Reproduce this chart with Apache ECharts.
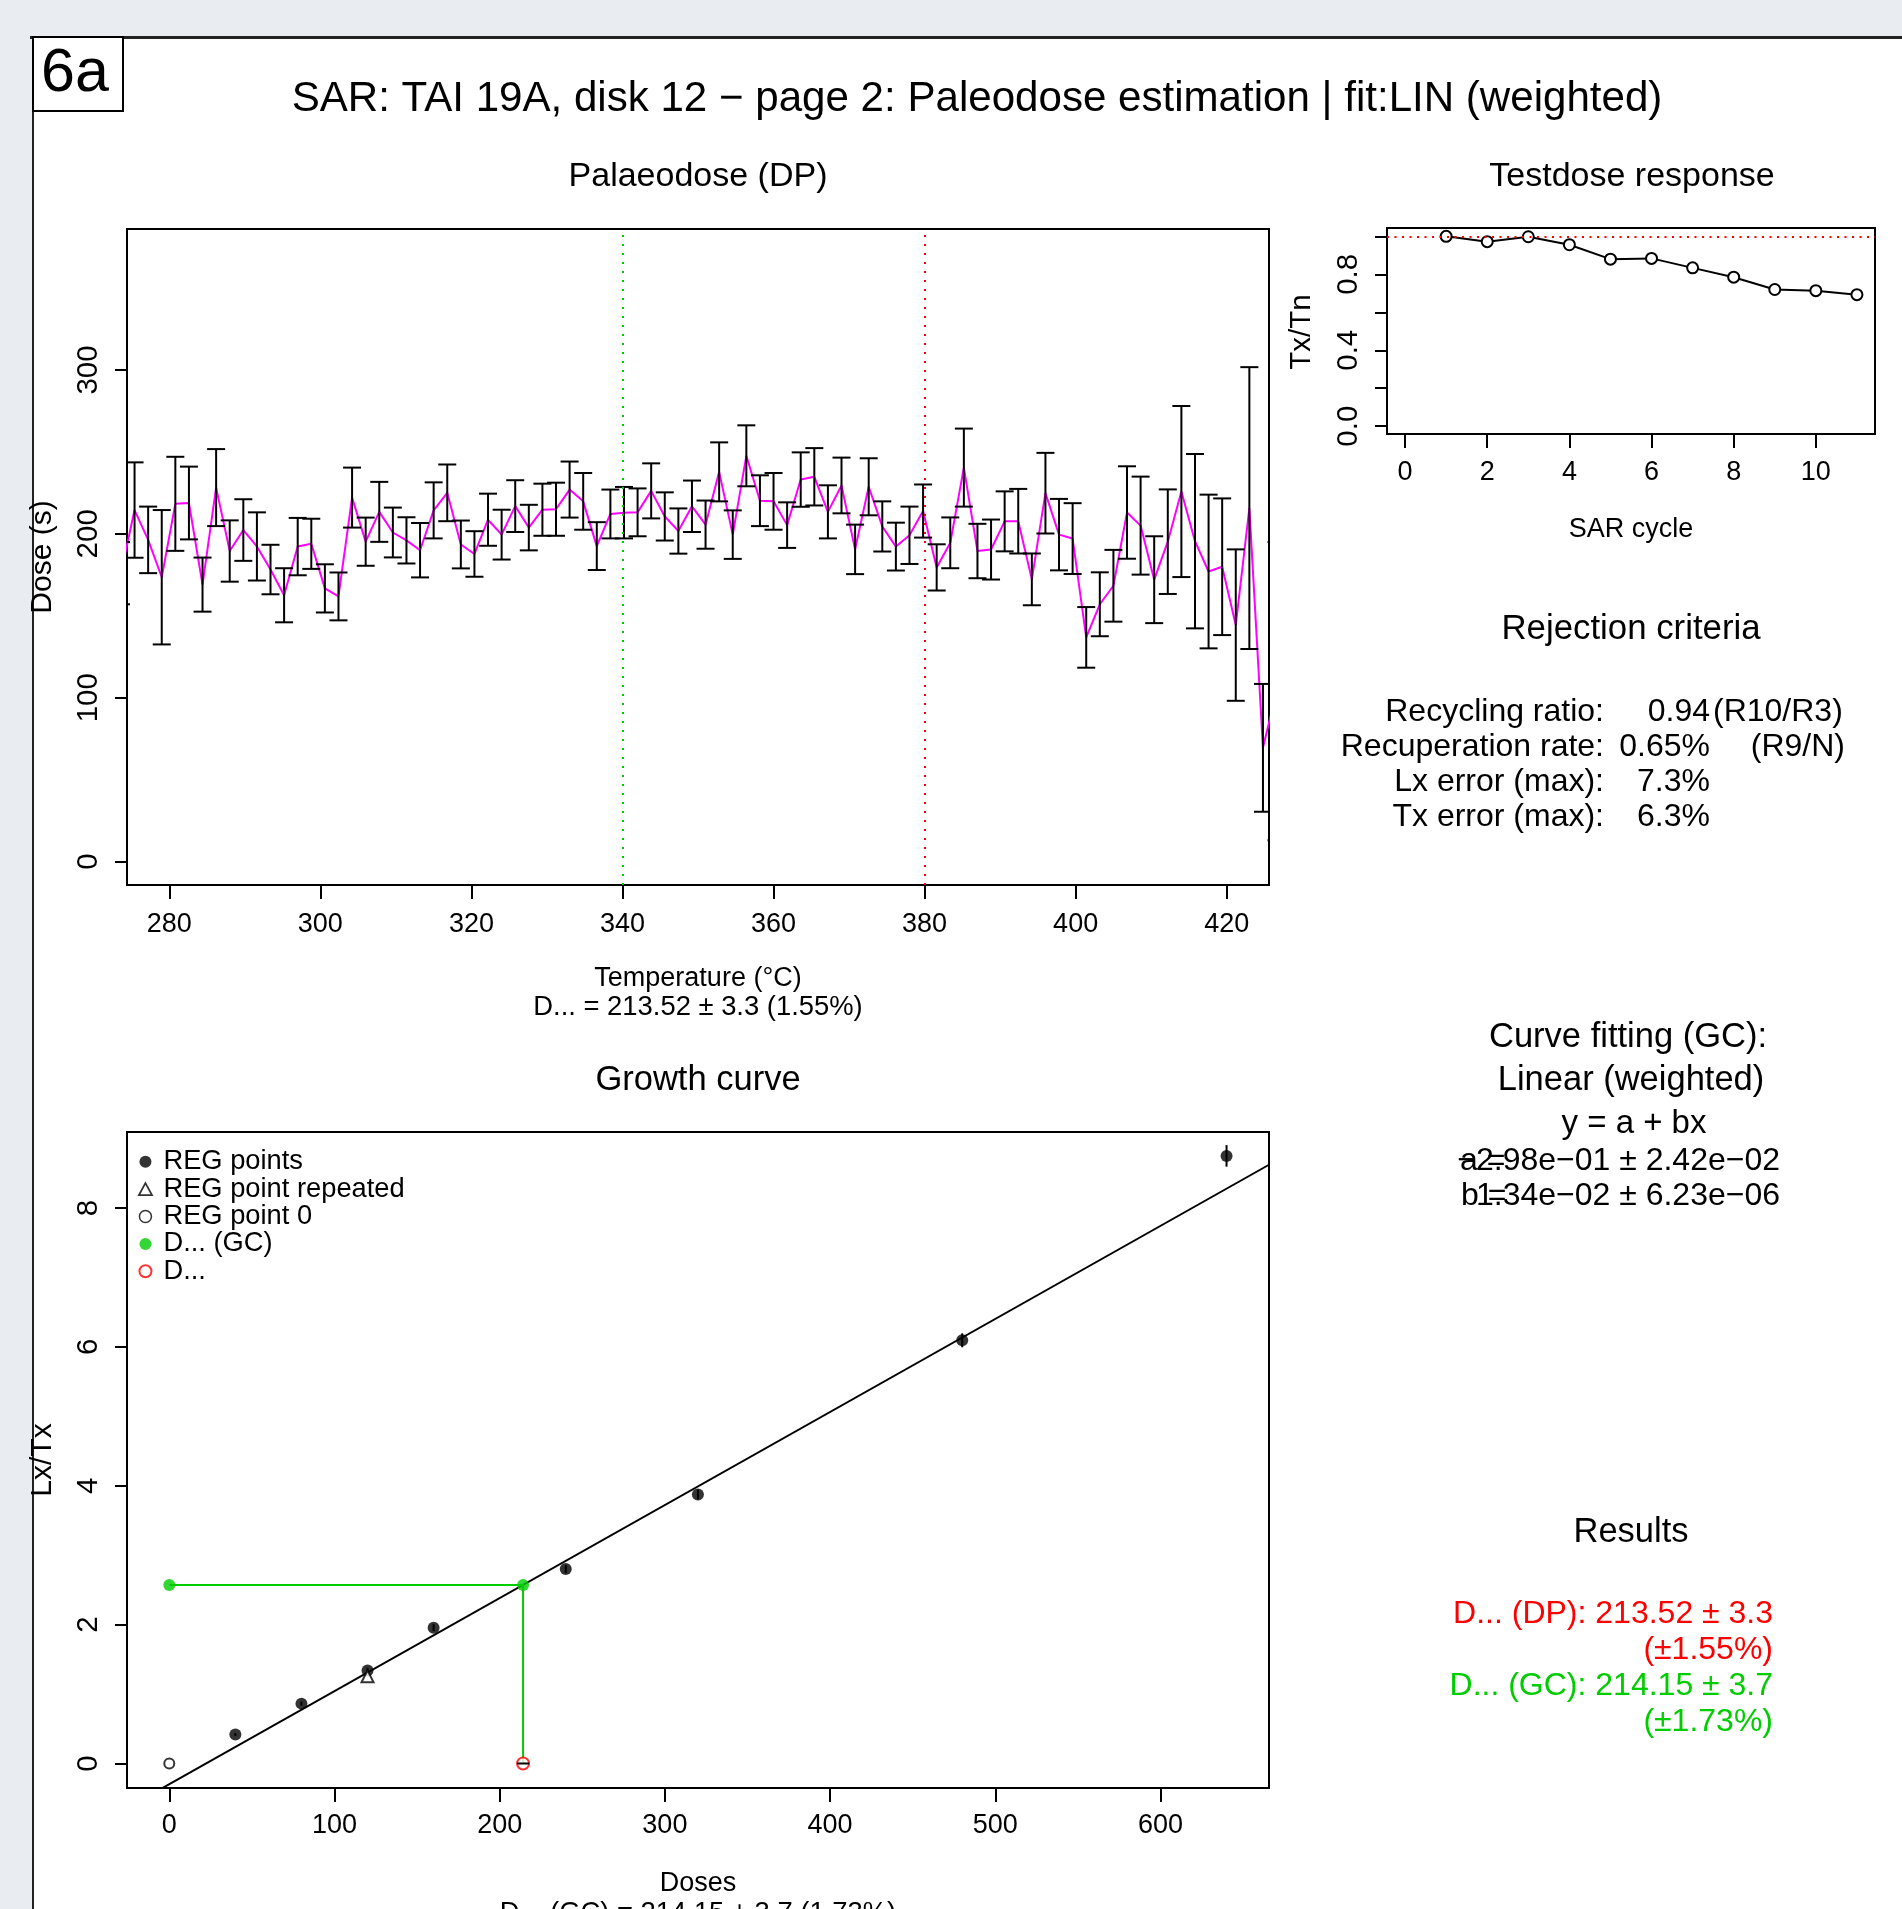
<!DOCTYPE html>
<html>
<head>
<meta charset="utf-8">
<script src="https://cdn.jsdelivr.net/npm/echarts@6/dist/echarts.min.js"></script>
<style>
html,body{margin:0;padding:0;background:#e9edf2;}
#c{width:1902px;height:1909px;}
</style>
</head>
<body>
<div id="c"></div>
<script>
// ---------------- DATA ----------------
// Palaeodose (DP) plateau: temperature (°C), dose (s), error (s)
const dpTemps = [273.6, 275.4, 277.2, 279.0, 280.8, 282.6, 284.4, 286.2, 288.0, 289.8,
  291.6, 293.4, 295.2, 297.0, 298.8, 300.6, 302.4, 304.2, 306.0, 307.8,
  309.6, 311.4, 313.2, 315.0, 316.8, 318.6, 320.4, 322.2, 324.0, 325.8,
  327.6, 329.4, 331.2, 333.0, 334.8, 336.6, 338.4, 340.2, 342.0, 343.8,
  345.6, 347.4, 349.2, 351.0, 352.8, 354.6, 356.4, 358.2, 360.0, 361.8,
  363.6, 365.4, 367.2, 369.0, 370.8, 372.6, 374.4, 376.2, 378.0, 379.8,
  381.6, 383.4, 385.2, 387.0, 388.8, 390.6, 392.4, 394.2, 396.0, 397.8,
  399.6, 401.4, 403.2, 405.0, 406.8, 408.6, 410.4, 412.2, 414.0, 415.8,
  417.6, 419.4, 421.2, 423.0, 424.8, 426.6];
const dpDose = [176, 214.5, 196.3, 173.5, 218.3, 218.8, 169, 228.2, 189.5, 202.3,
  192.3, 178.2, 162.5, 192.2, 193.9, 166.7, 161.8, 222.1, 195.2, 213.4,
  200.8, 196, 190, 214.3, 225, 193.5, 187.7, 208.6, 199.5, 216.9,
  203.8, 214.7, 215, 227, 219.8, 192.5, 212.1, 212.9, 213.1, 226.2,
  210.6, 201.7, 216.8, 205.6, 237.8, 199.5, 247.6, 220.2, 219.8, 205.3,
  233.1, 234.8, 213.4, 229.5, 190.5, 228.7, 204.5, 192.2, 199.1, 213.9,
  179.5, 194.5, 240.4, 189.5, 190.4, 207.6, 207.7, 172.2, 224.8, 199.5,
  197.1, 136.8, 157, 168.3, 213, 205, 172, 195.2, 225.8, 195.5,
  177, 179.9, 144.3, 215.7, 69.4, 104];
const dpErr = [19, 29.1, 20.3, 41, 28.7, 22.2, 16.5, 23.5, 18.7, 18.8,
  20.8, 15.1, 16.5, 17.5, 15.3, 14.7, 14.6, 18.3, 14.7, 18.3,
  15.2, 14.1, 16.6, 17.1, 17.3, 14.6, 13.9, 15.9, 15.2, 15.8,
  13.9, 15.9, 16.2, 17.1, 17.3, 14.6, 14.9, 15.7, 14.6, 16.8,
  14.7, 13.8, 15.7, 14.7, 18, 14.8, 18.6, 15.5, 17.3, 13.9,
  16.6, 17.5, 16.2, 17, 15.1, 17.4, 15.3, 14.6, 17.5, 16.2,
  14.1, 15.5, 23.8, 16.6, 18.3, 18.3, 19.7, 15.8, 24.6, 21.8,
  21.6, 18.5, 19.5, 21.9, 28.2, 29.9, 26.5, 31.9, 52.2, 53.2,
  46.9, 41.7, 46.2, 86, 39, 91];
const dpLimits = [340, 380];
const dpXTicks = [280, 300, 320, 340, 360, 380, 400, 420];
const dpYTicks = [0, 100, 200, 300];

// Testdose response
const tdCycle = [1, 2, 3, 4, 5, 6, 7, 8, 9, 10, 11];
const tdRatio = [1.0, 0.972, 0.998, 0.956, 0.880, 0.884, 0.834, 0.785, 0.720, 0.714, 0.693];
const tdRef = 1.0;
const tdXTicks = [0, 2, 4, 6, 8, 10];
const tdYTicks = [0, 0.2, 0.4, 0.6, 0.8, 1.0];
const tdYLabels = [0, 0.4, 0.8];

// Growth curve
const regDoses = [40, 80, 120, 160, 240, 320, 480, 640];
const regLxTx = [0.418, 0.862, 1.338, 1.956, 2.80, 3.874, 6.094, 8.75];
const regErr = [0.02, 0.03, 0.04, 0.05, 0.06, 0.07, 0.10, 0.155];
const repDose = [120];
const repLxTx = [1.255];
const zeroDose = [0];
const zeroLxTx = [0.0];
const naturalLxTx = 2.57;
const deGC = 214.15;
const deGCErr = 3.7;
const fitA = -0.298;
const fitB = 0.0134;
const gcXTicks = [0, 100, 200, 300, 400, 500, 600];
const gcYTicks = [0, 2, 4, 6, 8];

// ---------------- LAYOUT ----------------
const FONT = '"Liberation Sans", Arial, sans-serif';
const dpRange = {xmin: 274.4, xmax: 425.6, ymin: -14.3, ymax: 386};
const tdRange = {xmin: -0.44, xmax: 11.44, ymin: -0.041, ymax: 1.044};
const gcRange = {xmin: -25.6, xmax: 665.7, ymin: -0.353, ymax: 9.094};
const DY = 2; // text baseline correction

function errRender(capHalf, horizontal) {
  return function (params, api) {
    const x = api.value(0), y = api.value(1), e = api.value(2);
    let p1, p2;
    if (horizontal) { p1 = api.coord([x - e, y]); p2 = api.coord([x + e, y]); }
    else { p1 = api.coord([x, y + e]); p2 = api.coord([x, y - e]); }
    const st = {stroke: '#000', lineWidth: 2};
    const ch = [{type: 'line', shape: {x1: p1[0], y1: p1[1], x2: p2[0], y2: p2[1]}, style: st}];
    if (capHalf > 0) {
      ch.push({type: 'line', shape: {x1: p1[0] - capHalf, y1: p1[1], x2: p1[0] + capHalf, y2: p1[1]}, style: st});
      ch.push({type: 'line', shape: {x1: p2[0] - capHalf, y1: p2[1], x2: p2[0] + capHalf, y2: p2[1]}, style: st});
    }
    return {type: 'group', children: ch};
  };
}

function xAxisDef(gi, r, ticks, margin) {
  return {
    type: 'value', gridIndex: gi, min: r.xmin, max: r.xmax, position: 'bottom',
    axisLine: {show: false, onZero: false}, splitLine: {show: false},
    axisTick: {show: true, inside: false, length: 14, lineStyle: {color: '#000', width: 2}, customValues: ticks},
    axisLabel: {customValues: ticks, margin: margin, color: '#000', fontSize: 27, lineHeight: 27, fontFamily: FONT}
  };
}
function yAxisDef(gi, r, ticks, labels, margin, fmt) {
  return {
    type: 'value', gridIndex: gi, min: r.ymin, max: r.ymax, position: 'left',
    axisLine: {show: false, onZero: false}, splitLine: {show: false},
    axisTick: {show: true, inside: false, length: 12, lineStyle: {color: '#000', width: 2}, customValues: ticks},
    axisLabel: {customValues: labels, rotate: 90, margin: margin, color: '#000', fontSize: 29.5, lineHeight: 29,
      fontFamily: FONT, formatter: fmt || (v => String(v))}
  };
}

function txt(x, y, text, size, opts) {
  opts = opts || {};
  return {
    type: 'text', x: x, y: y + (opts.rot ? 0 : DY), rotation: opts.rot || 0, z: 10,
    style: {text: text, fontSize: size, fontFamily: FONT, fill: opts.color || '#000',
      align: opts.align || 'center', verticalAlign: 'middle'}
  };
}

const gridBase = {show: true, borderColor: '#000', borderWidth: 2, backgroundColor: '#fff', outerBoundsMode: 'none', containLabel: false};

const option = {
  animation: false,
  backgroundColor: '#e9edf2',
  textStyle: {fontFamily: FONT},
  grid: [
    Object.assign({left: 127, top: 229, width: 1142, height: 656}, gridBase),
    Object.assign({left: 1387, top: 228, width: 488, height: 206}, gridBase),
    Object.assign({left: 127, top: 1132, width: 1142, height: 656}, gridBase)
  ],
  xAxis: [
    xAxisDef(0, dpRange, dpXTicks, 26),
    xAxisDef(1, tdRange, tdXTicks, 25),
    xAxisDef(2, gcRange, gcXTicks, 24)
  ],
  yAxis: [
    yAxisDef(0, dpRange, dpYTicks, dpYTicks, 24),
    yAxisDef(1, tdRange, tdYTicks, tdYLabels, 24, v => v.toFixed(1)),
    yAxisDef(2, gcRange, gcYTicks, gcYTicks, 24)
  ],
  legend: {
    left: 138, top: 1148, orient: 'vertical', itemWidth: 26, itemHeight: 12, itemGap: 0, padding: 0,
    selectedMode: false, symbolKeepAspect: true,
    textStyle: {fontSize: 27.3, lineHeight: 27.4, color: '#000', fontFamily: FONT},
    data: [
      {name: 'REG points', icon: 'circle', symbolKeepAspect: true, itemStyle: {color: '#000', borderWidth: 0}},
      {name: 'REG point repeated', icon: 'path://M6,0 L12,11 L0,11 Z', symbolKeepAspect: true, itemStyle: {color: '#fff', borderColor: '#000', borderWidth: 1.8}},
      {name: 'REG point 0', icon: 'circle', symbolKeepAspect: true, itemStyle: {color: '#fff', borderColor: '#000', borderWidth: 1.5}},
      {name: 'D... (GC)', icon: 'circle', symbolKeepAspect: true, itemStyle: {color: '#00cd00', borderWidth: 0}},
      {name: 'D...', icon: 'circle', symbolKeepAspect: true, itemStyle: {color: '#fff', borderColor: '#ff0000', borderWidth: 2}}
    ]
  },
  series: [
    // --- Palaeodose ---
    {
      type: 'line', name: 'DP', xAxisIndex: 0, yAxisIndex: 0, showSymbol: false, clip: true,
      lineStyle: {color: '#ff00ff', width: 2}, itemStyle: {color: '#ff00ff'},
      data: dpTemps.map((t, i) => [t, dpDose[i]]), z: 2,
      markLine: {
        silent: true, symbol: ['none', 'none'], label: {show: false}, animation: false,
        data: [
          {xAxis: dpLimits[0], lineStyle: {color: '#00cd00', type: [2, 7], width: 2}},
          {xAxis: dpLimits[1], lineStyle: {color: '#ff0000', type: [2, 7], width: 2}}
        ]
      }
    },
    {
      type: 'custom', name: 'DPerr', xAxisIndex: 0, yAxisIndex: 0, clip: true, z: 3,
      renderItem: errRender(9, false), encode: {x: 0, y: 1},
      data: dpTemps.map((t, i) => [t, dpDose[i], dpErr[i]])
    },
    // --- Testdose ---
    {
      type: 'line', name: 'TD', xAxisIndex: 1, yAxisIndex: 1, symbol: 'emptyCircle', symbolSize: 11,
      lineStyle: {color: '#000', width: 2}, itemStyle: {color: '#000', borderWidth: 2},
      data: tdCycle.map((c, i) => [c, tdRatio[i]]), z: 3,
      markLine: {
        silent: true, symbol: ['none', 'none'], label: {show: false}, animation: false,
        data: [{yAxis: tdRef, lineStyle: {color: '#ff0000', type: [2, 5.5], width: 2}}]
      }
    },
    // --- Growth curve ---
    {
      type: 'line', name: 'fit', xAxisIndex: 2, yAxisIndex: 2, showSymbol: false, clip: true,
      lineStyle: {color: '#000', width: 2}, z: 2,
      data: [[gcRange.xmin, fitA + fitB * gcRange.xmin], [gcRange.xmax, fitA + fitB * gcRange.xmax]]
    },
    {
      type: 'line', name: 'deLines', xAxisIndex: 2, yAxisIndex: 2, showSymbol: false, clip: true,
      lineStyle: {color: '#00cd00', width: 2}, z: 2,
      data: [[0, naturalLxTx], [deGC, naturalLxTx], [deGC, 0]]
    },
    {
      type: 'custom', name: 'REGerr', xAxisIndex: 2, yAxisIndex: 2, clip: true, z: 3,
      renderItem: errRender(0, false), encode: {x: 0, y: 1},
      data: regDoses.map((d, i) => [d, regLxTx[i], regErr[i]])
    },
    {
      type: 'scatter', name: 'REG points', xAxisIndex: 2, yAxisIndex: 2, symbol: 'circle', symbolSize: 12,
      itemStyle: {color: '#000'}, z: 4,
      data: regDoses.map((d, i) => [d, regLxTx[i]])
    },
    {
      type: 'scatter', name: 'REG point repeated', xAxisIndex: 2, yAxisIndex: 2, symbol: 'emptyTriangle', symbolSize: 12,
      itemStyle: {color: '#000', borderWidth: 2}, z: 4,
      data: repDose.map((d, i) => [d, repLxTx[i]])
    },
    {
      type: 'scatter', name: 'REG point 0', xAxisIndex: 2, yAxisIndex: 2, symbol: 'emptyCircle', symbolSize: 10,
      itemStyle: {color: '#000', borderWidth: 1.8}, z: 4,
      data: zeroDose.map((d, i) => [d, zeroLxTx[i]])
    },
    {
      type: 'custom', name: 'DEerr', xAxisIndex: 2, yAxisIndex: 2, clip: true, z: 5,
      renderItem: errRender(0, true), encode: {x: 0, y: 1},
      data: [[deGC, 0, deGCErr]]
    },
    {
      type: 'scatter', name: 'D... (GC)', xAxisIndex: 2, yAxisIndex: 2, symbol: 'circle', symbolSize: 12,
      itemStyle: {color: '#00cd00'}, z: 4,
      data: [[0, naturalLxTx], [deGC, naturalLxTx]]
    },
    {
      type: 'scatter', name: 'D...', xAxisIndex: 2, yAxisIndex: 2, symbol: 'emptyCircle', symbolSize: 12,
      itemStyle: {color: '#ff0000', borderWidth: 2}, z: 4,
      data: [[deGC, 0]]
    }
  ],
  graphic: [
    // white panel with borders
    {type: 'rect', z: -1, shape: {x: 33, y: 37, width: 1869, height: 1872}, style: {fill: '#fff'}},
    {type: 'line', z: 1, shape: {x1: 30, y1: 37.5, x2: 1902, y2: 37.5}, style: {stroke: '#222', lineWidth: 3}},
    {type: 'line', z: 1, shape: {x1: 33, y1: 37, x2: 33, y2: 1909}, style: {stroke: '#222', lineWidth: 2}},
    // 6a box
    {type: 'rect', z: 5, shape: {x: 33, y: 37, width: 90, height: 74}, style: {fill: '#fff', stroke: '#000', lineWidth: 2}},
    txt(75, 72, '6a', 61),
    // titles
    txt(977, 97.5, 'SAR: TAI 19A, disk 12 \u2212 page 2: Paleodose estimation | fit:LIN (weighted)', 42.1),
    txt(698, 175, 'Palaeodose (DP)', 34),
    txt(1632, 175, 'Testdose response', 34),
    txt(698, 1078, 'Growth curve', 34.5),
    // palaeodose axis titles
    txt(698, 977, 'Temperature (\u00B0C)', 27),
    txt(698, 1005, 'D... = 213.52 \u00B1 3.3 (1.55%)', 27.4),
    txt(43, 557, 'Dose (s)', 30, {rot: Math.PI / 2}),
    // testdose
    txt(1631, 527.5, 'SAR cycle', 27),
    txt(1302, 332, 'Tx/Tn', 29.5, {rot: Math.PI / 2}),
    // growth
    txt(698, 1882, 'Doses', 27),
    txt(698, 1911, 'D... (GC) = 214.15 \u00B1 3.7 (1.73%)', 27.4),
    txt(43, 1460, 'Lx/Tx', 30, {rot: Math.PI / 2}),
    // rejection criteria
    txt(1631, 627, 'Rejection criteria', 34.8),
    txt(1604, 710, 'Recycling ratio:', 32, {align: 'right'}),
    txt(1604, 745, 'Recuperation rate:', 32, {align: 'right'}),
    txt(1604, 780, 'Lx error (max):', 32, {align: 'right'}),
    txt(1604, 815, 'Tx error (max):', 32, {align: 'right'}),
    txt(1710, 710, '0.94', 32, {align: 'right'}),
    txt(1710, 745, '0.65%', 32, {align: 'right'}),
    txt(1710, 780, '7.3%', 32, {align: 'right'}),
    txt(1710, 815, '6.3%', 32, {align: 'right'}),
    txt(1713, 710, '(R10/R3)', 32, {align: 'left'}),
    txt(1845, 745, '(R9/N)', 32, {align: 'right'}),
    // curve fitting
    txt(1628, 1035, 'Curve fitting (GC):', 34.5),
    txt(1631, 1078, 'Linear (weighted)', 34.5),
    txt(1634, 1122, 'y = a + bx', 33),
    txt(1460, 1159, 'a =', 32, {align: 'left'}),
    txt(1780, 1159, '\u22122.98e\u221201 \u00B1 2.42e\u221202', 32, {align: 'right'}),
    txt(1461, 1194, 'b =', 32, {align: 'left'}),
    txt(1780, 1194, '1.34e\u221202 \u00B1 6.23e\u221206', 32, {align: 'right'}),
    // results
    txt(1631, 1530, 'Results', 34.5),
    txt(1773, 1612, 'D... (DP): 213.52 \u00B1 3.3', 32, {align: 'right', color: '#ff0000'}),
    txt(1773, 1648, '(\u00B11.55%)', 32, {align: 'right', color: '#ff0000'}),
    txt(1773, 1684, 'D... (GC): 214.15 \u00B1 3.7', 32, {align: 'right', color: '#00cd00'}),
    txt(1773, 1720, '(\u00B11.73%)', 32, {align: 'right', color: '#00cd00'})
  ]
};

const chart = echarts.init(document.getElementById('c'), null, {renderer: 'canvas', width: 1902, height: 1909});
chart.setOption(option);
</script>
</body>
</html>
